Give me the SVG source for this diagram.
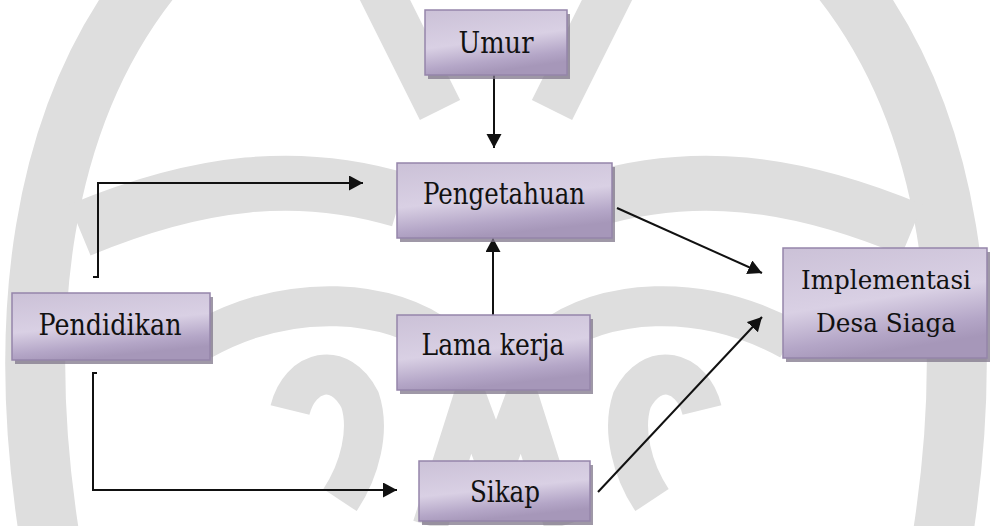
<svg xmlns="http://www.w3.org/2000/svg" width="993" height="526" viewBox="0 0 993 526">
  <defs>
    <linearGradient id="boxFill" x1="0" y1="0" x2="0.3" y2="1">
      <stop offset="0" stop-color="#cbc1d7"/>
      <stop offset="0.55" stop-color="#d9d0e4"/>
      <stop offset="0.85" stop-color="#b4a6c7"/>
      <stop offset="1" stop-color="#a697b9"/>
    </linearGradient>
    <marker id="arrow" markerUnits="userSpaceOnUse" markerWidth="16" markerHeight="16" refX="14" refY="7.5" orient="auto">
      <path d="M0,0 L14,7.5 L0,15 Z" fill="#111"/>
    </marker>
    <style>
      .wm { fill: none; stroke: #dedede; stroke-linecap: butt; }
      .shadow { fill: #7f7689; opacity: 0.75; }
      .box { fill: url(#boxFill); stroke: #9585aa; stroke-width: 1.5; }
      .label { font-family: "DejaVu Serif", serif; font-size: 29px; fill: #111; text-anchor: middle; }
      .small { font-size: 26px; }
      .conn { fill: none; stroke: #111; stroke-width: 2; }
    </style>
  </defs>

  <rect width="993" height="526" fill="#ffffff"/>

  <!-- faint emblem in the background -->
  <g id="emblem">
    <path class="wm" stroke-width="60" d="M150,-20 C40,120 15,320 50,540"/>
    <path class="wm" stroke-width="60" d="M842,-20 C952,120 977,320 942,540"/>
    <path class="wm" stroke-width="55" d="M80,230 C200,180 300,170 400,200"/>
    <path class="wm" stroke-width="55" d="M912,230 C792,180 692,170 592,200"/>
    <path class="wm" stroke-width="45" d="M380,-10 L440,110"/>
    <path class="wm" stroke-width="45" d="M612,-10 L552,110"/>
    <path class="wm" stroke-width="40" d="M290,410 C300,370 340,360 360,400 C370,430 360,470 340,500"/>
    <path class="wm" stroke-width="40" d="M702,410 C692,370 652,360 632,400 C622,430 632,470 652,500"/>
    <path class="wm" stroke-width="35" d="M430,526 L470,400 L496,470 L522,400 L562,526"/>
    <path class="wm" stroke-width="40" d="M550,340 C600,300 700,290 790,340"/>
    <path class="wm" stroke-width="40" d="M442,340 C392,300 292,290 202,340"/>
  </g>

  <!-- connectors -->
  <g id="connectors">
    <line class="conn" x1="494" y1="75" x2="494" y2="148" marker-end="url(#arrow)"/>
    <polyline class="conn" points="93,277 98,277 98,183 363,183" marker-end="url(#arrow)"/>
    <line class="conn" x1="617" y1="208" x2="762" y2="273" marker-end="url(#arrow)"/>
    <line class="conn" x1="493" y1="315" x2="493" y2="238" marker-end="url(#arrow)"/>
    <polyline class="conn" points="97,373 93,373 93,490 397,490" marker-end="url(#arrow)"/>
    <line class="conn" x1="598" y1="492" x2="762" y2="317" marker-end="url(#arrow)"/>
  </g>

  <g id="umur">
    <rect class="shadow" x="428" y="14" width="142" height="65"/>
    <rect class="box" x="425" y="10" width="142" height="65"/>
    <text class="label" x="496" y="53" textLength="75" lengthAdjust="spacingAndGlyphs">Umur</text>
  </g>
  <g id="pengetahuan">
    <rect class="shadow" x="400" y="167" width="215" height="75"/>
    <rect class="box" x="397" y="163" width="215" height="75"/>
    <text class="label" x="504" y="204" textLength="162" lengthAdjust="spacingAndGlyphs">Pengetahuan</text>
  </g>
  <g id="pendidikan">
    <rect class="shadow" x="15" y="297" width="198" height="67"/>
    <rect class="box" x="12" y="293" width="198" height="67"/>
    <text class="label" x="110" y="335" textLength="143" lengthAdjust="spacingAndGlyphs">Pendidikan</text>
  </g>
  <g id="lama-kerja">
    <rect class="shadow" x="400" y="319" width="193" height="75"/>
    <rect class="box" x="397" y="315" width="193" height="75"/>
    <text class="label" x="493" y="355" textLength="143" lengthAdjust="spacingAndGlyphs">Lama kerja</text>
  </g>
  <g id="implementasi">
    <rect class="shadow" x="786" y="252" width="204" height="110"/>
    <rect class="box" x="783" y="248" width="204" height="110"/>
    <text class="label small" x="886" y="289" textLength="170" lengthAdjust="spacingAndGlyphs">Implementasi</text>
    <text class="label small" x="886" y="332" textLength="140" lengthAdjust="spacingAndGlyphs">Desa Siaga</text>
  </g>
  <g id="sikap">
    <rect class="shadow" x="422" y="465" width="171" height="60"/>
    <rect class="box" x="419" y="461" width="171" height="60"/>
    <text class="label" x="505" y="502" textLength="70" lengthAdjust="spacingAndGlyphs">Sikap</text>
  </g>
</svg>
